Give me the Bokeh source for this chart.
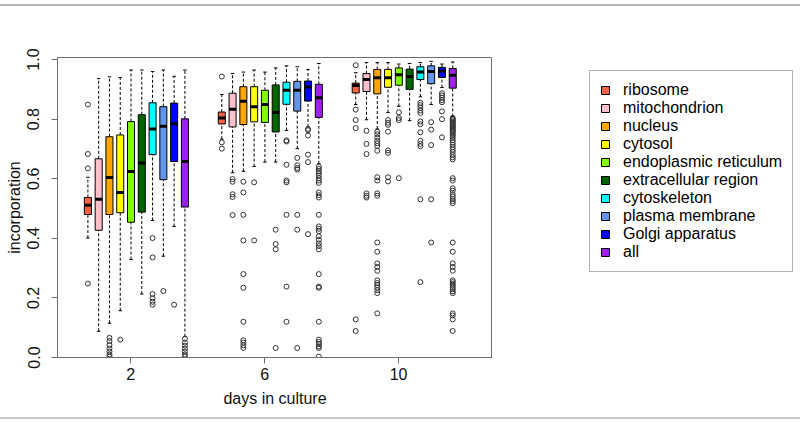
from bokeh.plotting import figure
from bokeh.layouts import row
from bokeh.models import ColumnDataSource, Range1d, FixedTicker, Legend, LegendItem, NumeralTickFormatter
from bokeh.embed import file_html
from bokeh.resources import INLINE

# ---------------- data ----------------
days = [2, 6, 10]
categories = ["ribosome", "mitochondrion", "nucleus", "cytosol", "endoplasmic reticulum",
              "extracellular region", "cytoskeleton", "plasma membrane", "Golgi apparatus", "all"]
colors = ["#FF6347", "#FFC0CB", "#FFA500", "#FFFF00", "#7FFF00",
          "#006400", "#00FFFF", "#6495ED", "#0000FF", "#A020F0"]

# day 2: lower whisker, Q1, median, Q3, upper whisker (one value per category)
lo_d2 = [0.401, 0.088, 0.115, 0.157, 0.329, 0.213, 0.460, 0.340, 0.440, 0.070]
q1_d2 = [0.480, 0.427, 0.480, 0.486, 0.454, 0.488, 0.681, 0.597, 0.658, 0.505]
med_d2 = [0.511, 0.531, 0.604, 0.554, 0.624, 0.653, 0.767, 0.776, 0.785, 0.658]
q3_d2 = [0.537, 0.667, 0.741, 0.747, 0.792, 0.815, 0.855, 0.842, 0.854, 0.801]
hi_d2 = [0.605, 0.936, 0.942, 0.940, 0.965, 0.965, 0.960, 0.965, 0.944, 0.965]
out_d2 = [
    [0.849, 0.683, 0.635, 0.248],
    [],
    [0.066, 0.055, 0.042, 0.030, 0.020, 0.010, 0.003],
    [0.060],
    [],
    [],
    [0.401, 0.336, 0.213, 0.199, 0.187, 0.177],
    [0.223],
    [0.177],
    [0.063, 0.050, 0.040, 0.030, 0.020, 0.010, 0.003],
]

# day 6
lo_d6 = [0.733, 0.620, 0.625, 0.641, 0.656, 0.656, 0.762, 0.701, 0.774, 0.650]
q1_d6 = [0.784, 0.774, 0.782, 0.791, 0.789, 0.757, 0.850, 0.827, 0.861, 0.806]
med_d6 = [0.804, 0.833, 0.860, 0.842, 0.849, 0.822, 0.897, 0.897, 0.908, 0.872]
q3_d6 = [0.824, 0.887, 0.909, 0.909, 0.897, 0.915, 0.924, 0.927, 0.928, 0.917]
hi_d6 = [0.883, 0.953, 0.958, 0.965, 0.958, 0.972, 0.979, 0.976, 0.967, 0.987]
out_d6 = [
    [0.943, 0.722, 0.701],
    [0.599, 0.590, 0.548, 0.539, 0.478],
    [0.590, 0.554, 0.479, 0.393, 0.280, 0.234, 0.120, 0.058, 0.050, 0.041, 0.032],
    [0.588, 0.393],
    [],
    [0.429, 0.381, 0.363, 0.032],
    [0.729, 0.725, 0.647, 0.594, 0.588, 0.479, 0.238, 0.120],
    [0.670, 0.645, 0.636, 0.631, 0.479, 0.429, 0.032],
    [0.767, 0.763, 0.745, 0.681, 0.656, 0.414],
    [0.641, 0.633, 0.625, 0.619, 0.611, 0.602, 0.594, 0.586, 0.554, 0.545, 0.537, 0.479,
     0.440, 0.432, 0.424, 0.407, 0.395, 0.383, 0.374, 0.363, 0.280, 0.238, 0.234, 0.120,
     0.060, 0.052, 0.045, 0.037, 0.032, 0.003],
]

# day 10
lo_d10 = [0.849, 0.798, 0.767, 0.822, 0.843, 0.795, 0.875, 0.849, 0.906, 0.809]
q1_d10 = [0.888, 0.893, 0.885, 0.907, 0.914, 0.900, 0.933, 0.919, 0.940, 0.904]
med_d10 = [0.913, 0.933, 0.939, 0.939, 0.949, 0.943, 0.958, 0.960, 0.962, 0.947]
q3_d10 = [0.921, 0.953, 0.967, 0.967, 0.972, 0.968, 0.976, 0.979, 0.974, 0.970]
hi_d10 = [0.956, 0.990, 0.990, 0.990, 0.985, 0.987, 0.990, 0.994, 0.985, 0.992]
out_d10 = [
    [0.981, 0.832, 0.797, 0.770, 0.128, 0.089],
    [0.761, 0.717, 0.683, 0.551, 0.543, 0.537],
    [0.758, 0.749, 0.738, 0.727, 0.719, 0.710, 0.694, 0.605, 0.594, 0.551, 0.543, 0.386,
     0.355, 0.316, 0.304, 0.291, 0.259, 0.250, 0.243, 0.235, 0.226, 0.216, 0.148],
    [0.797, 0.788, 0.781, 0.758, 0.695, 0.687, 0.605, 0.591],
    [0.823, 0.804, 0.797, 0.602],
    [],
    [0.855, 0.847, 0.838, 0.829, 0.821, 0.792, 0.783, 0.756, 0.727, 0.717, 0.709, 0.531, 0.253],
    [0.790, 0.765, 0.713, 0.531, 0.386],
    [0.887, 0.880, 0.872, 0.864, 0.857, 0.826, 0.800, 0.739],
    [0.804, 0.800, 0.796, 0.792, 0.788, 0.784, 0.780, 0.776, 0.772, 0.768, 0.764, 0.760,
     0.756, 0.750, 0.744, 0.738, 0.730, 0.722, 0.714, 0.706, 0.698, 0.690, 0.680, 0.672,
     0.665, 0.602, 0.594, 0.568, 0.560, 0.548, 0.540, 0.532, 0.525, 0.518, 0.386, 0.355,
     0.316, 0.304, 0.291, 0.259, 0.253, 0.247, 0.241, 0.235, 0.229, 0.222, 0.216, 0.148,
     0.141, 0.128, 0.089],
]

y_ticks = [0.0, 0.2, 0.4, 0.6, 0.8, 1.0]

# ---------------- layout ----------------
stats = {
    2: (lo_d2, q1_d2, med_d2, q3_d2, hi_d2, out_d2),
    6: (lo_d6, q1_d6, med_d6, q3_d6, hi_d6, out_d6),
    10: (lo_d10, q1_d10, med_d10, q3_d10, hi_d10, out_d10),
}
first_off = -1.28
step = 0.322
bw = 0.21
FONT = "Liberation Sans"
AXC = "#6e6e6e"
PAGE_STYLE = {"margin-top": "4px", "border-top": "2px solid #b4b4b4",
              "border-bottom": "2px solid #c8c8c8"}

p = figure(width=492, height=415, output_backend="svg", toolbar_location=None,
           x_range=Range1d(-0.188, 12.806), y_range=Range1d(0.0, 1.007),
           min_border_left=57, min_border_right=0, min_border_top=51, min_border_bottom=64,
           background_fill_color="white", border_fill_color="white")
p.styles = dict(PAGE_STYLE)
p.xgrid.visible = False
p.ygrid.visible = False
p.outline_line_color = AXC
p.outline_line_width = 1

for i, cat in enumerate(categories):
    xs, lo, q1, md, q3, hi = [], [], [], [], [], []
    ox, oy = [], []
    for d in days:
        s = stats[d]
        x = d + first_off + step * i
        xs.append(x)
        lo.append(s[0][i]); q1.append(s[1][i]); md.append(s[2][i]); q3.append(s[3][i]); hi.append(s[4][i])
        for v in s[5][i]:
            ox.append(x); oy.append(v)
    src = ColumnDataSource(dict(
        x=xs, lo=lo, q1=q1, med=md, q3=q3, hi=hi,
        xl=[x - bw / 2 for x in xs], xr=[x + bw / 2 for x in xs],
        cl=[x - bw / 4 for x in xs], cr=[x + bw / 4 for x in xs],
    ))
    p.segment(x0="x", y0="q3", x1="x", y1="hi", source=src, line_color="black",
              line_width=1, line_dash="3 2")
    p.segment(x0="x", y0="lo", x1="x", y1="q1", source=src, line_color="black",
              line_width=1, line_dash="3 2")
    p.segment(x0="cl", y0="hi", x1="cr", y1="hi", source=src, line_color="black", line_width=1)
    p.segment(x0="cl", y0="lo", x1="cr", y1="lo", source=src, line_color="black", line_width=1)
    p.vbar(x="x", width=bw, bottom="q1", top="q3", source=src,
           fill_color=colors[i], line_color="black", line_width=1)
    p.segment(x0="xl", y0="med", x1="xr", y1="med", source=src, line_color="black", line_width=3)
    if ox:
        p.scatter(ox, oy, marker="circle", size=5, fill_color=None,
                  line_color="#333333", line_width=1)

# axes
p.xaxis.ticker = FixedTicker(ticks=days)
p.yaxis.ticker = FixedTicker(ticks=y_ticks)
p.yaxis.formatter = NumeralTickFormatter(format="0.0")
p.yaxis.major_label_orientation = "parallel"
p.xaxis.axis_label = "days in culture"
p.yaxis.axis_label = "incorporation"
for ax in (p.xaxis, p.yaxis):
    ax.axis_line_color = AXC
    ax.major_tick_line_color = AXC
    ax.minor_tick_line_color = None
    ax.major_tick_in = 0
    ax.major_tick_out = 6
    ax.major_label_text_font = FONT
    ax.major_label_text_font_size = "16px"
    ax.major_label_text_color = "#111111"
    ax.axis_label_text_font = FONT
    ax.axis_label_text_font_size = "16px"
    ax.axis_label_text_font_style = "normal"
    ax.axis_label_text_color = "#111111"
p.xaxis.major_label_standoff = 4
p.xaxis.axis_label_standoff = 7
p.yaxis.major_label_standoff = 12
p.yaxis.axis_label_standoff = 2

# ---------------- legend panel ----------------
pl = figure(width=308, height=415, output_backend="svg", toolbar_location=None,
            x_range=Range1d(0, 1), y_range=Range1d(0, 1), x_axis_type=None, y_axis_type=None,
            min_border=0, background_fill_color="white", border_fill_color="white")
pl.styles = dict(PAGE_STYLE)
pl.xgrid.visible = False
pl.ygrid.visible = False
pl.outline_line_color = None
items = []
for i, cat in enumerate(categories):
    # legend key only: an undrawn bar that carries the fill colour for the legend swatch
    r = pl.vbar(x=[-10], bottom=[-10], top=[-9], width=0.1,
                fill_color=colors[i], line_color="black", line_width=1)
    r.visible = False
    items.append(LegendItem(label=cat, renderers=[r]))

legend = Legend(items=items, location=(97, 85))
legend.label_text_font = FONT
legend.label_text_font_size = "16px"
legend.label_text_color = "black"
legend.label_height = 18
legend.glyph_height = 10
legend.glyph_width = 10
legend.spacing = 0
legend.padding = 10
legend.margin = 0
legend.label_standoff = 13
legend.border_line_color = "#666666"
legend.border_line_width = 1
legend.background_fill_color = "white"
legend.background_fill_alpha = 1.0
pl.add_layout(legend)

layout = row(p, pl, spacing=0)
open("out.html", "w").write(file_html(layout, INLINE))
